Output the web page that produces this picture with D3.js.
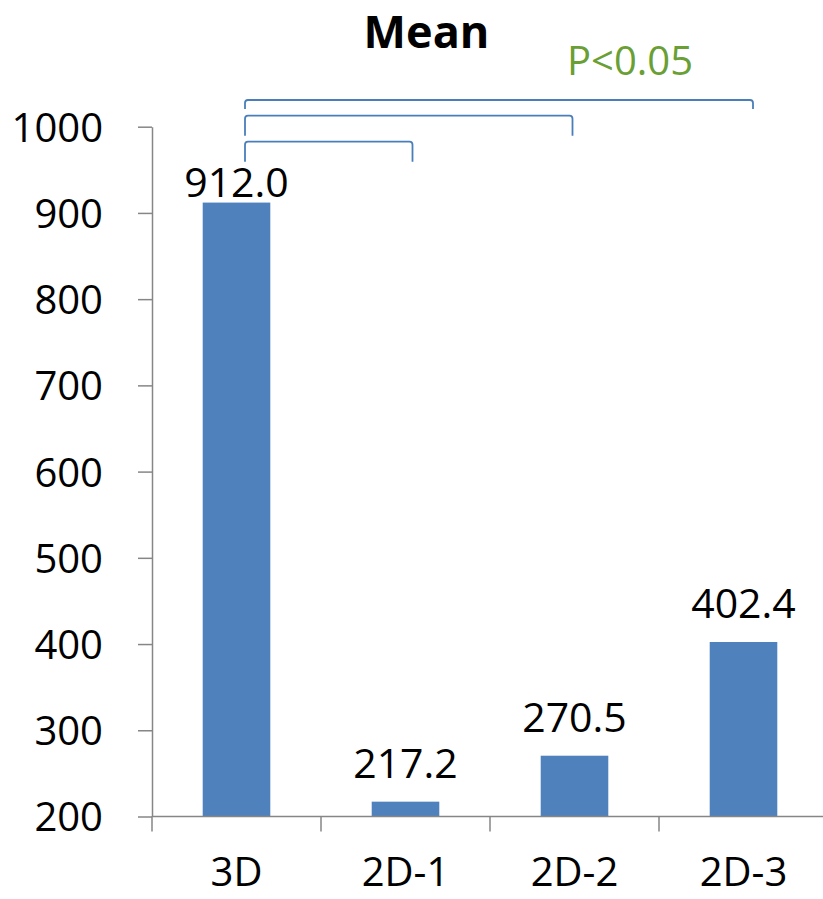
<!DOCTYPE html>
<html>
<head>
<meta charset="utf-8">
<script src="https://cdn.jsdelivr.net/npm/d3@7"></script>
<style>
  html, body { margin: 0; padding: 0; background: #fff; }
  svg { display: block; font-family: "Open Sans", "Noto Sans", sans-serif; }
</style>
</head>
<body>
<svg id="chart" width="823" height="899"></svg>
<script>
// Mean value per condition
const categories = ["3D", "2D-1", "2D-2", "2D-3"];
const means = [912.0, 217.2, 270.5, 402.4];
const yTicks = [200, 300, 400, 500, 600, 700, 800, 900, 1000];
// Pairwise comparisons against 3D, drawn as brackets
const comparisons = [
  { from: "3D", to: "2D-1" },
  { from: "3D", to: "2D-2" },
  { from: "3D", to: "2D-3" }
];
const pLabel = "P<0.05";
const title = "Mean";

const svg = d3.select("#chart");
const axisColor = "#868686";
const barColor = "#4f81bd";
const bracketColor = "#4a7ebb";

const plot = { left: 152, right: 828, top: 126.7, bottom: 816.5 };

const x = d3.scaleBand()
  .domain(categories)
  .range([plot.left, plot.right])
  .paddingInner(0.6)
  .paddingOuter(0.3);

// category boundaries for the tick marks
const xCat = d3.scaleBand().domain(categories).range([plot.left, plot.right]).padding(0);

const y = d3.scaleLinear().domain([200, 1000]).range([plot.bottom, plot.top]);

// Title
svg.append("text")
  .attr("x", 426.5).attr("y", 48)
  .attr("text-anchor", "middle")
  .attr("font-size", 45).attr("font-weight", "bold")
  .attr("fill", "#000")
  .text(title);

// Bars
svg.append("g").selectAll("rect")
  .data(categories.map((c, i) => ({ c, v: means[i] })))
  .join("rect")
  .attr("x", d => x(d.c))
  .attr("width", x.bandwidth())
  .attr("y", d => y(d.v))
  .attr("height", d => y(200) - y(d.v))
  .attr("fill", barColor);

// Value labels (kept inside the plot area)
svg.append("g").selectAll("text")
  .data(categories.map((c, i) => ({ c, v: means[i] })))
  .join("text")
  .attr("x", d => x(d.c) + x.bandwidth() / 2)
  .attr("y", d => Math.max(y(d.v) - 24, plot.top + 70))
  .attr("text-anchor", "middle")
  .attr("font-size", 41)
  .attr("fill", "#000")
  .text(d => d.v.toFixed(1));

// Y axis
const yAxis = svg.append("g")
  .attr("transform", `translate(${plot.left},0)`)
  .call(d3.axisLeft(y).tickValues(yTicks).tickFormat(d3.format("d"))
    .tickSize(14).tickSizeOuter(0).tickPadding(35));
yAxis.select(".domain").attr("stroke", axisColor).attr("stroke-width", 1.5);
yAxis.selectAll(".tick line").attr("stroke", axisColor).attr("stroke-width", 1.5);
yAxis.selectAll(".tick text")
  .attr("font-size", 40).attr("font-family", "Open Sans").attr("fill", "#000")
  .attr("dy", "0.36em");

// X axis: baseline plus boundary tick marks
const xg = svg.append("g");
xg.append("line")
  .attr("x1", plot.left).attr("x2", plot.right)
  .attr("y1", plot.bottom).attr("y2", plot.bottom)
  .attr("stroke", axisColor).attr("stroke-width", 1.5);
xg.selectAll("line.bound")
  .data(categories.map(c => xCat(c)).concat([plot.right]))
  .join("line")
  .attr("class", "bound")
  .attr("x1", d => d).attr("x2", d => d)
  .attr("y1", plot.bottom).attr("y2", plot.bottom + 15)
  .attr("stroke", axisColor).attr("stroke-width", 1.5);
xg.selectAll("text")
  .data(categories)
  .join("text")
  .attr("x", d => x(d) + x.bandwidth() / 2)
  .attr("y", 886)
  .attr("text-anchor", "middle")
  .attr("font-size", 40)
  .attr("fill", "#000")
  .text(d => d);

// Comparison brackets
const bracketLevels = [
  { top: 141.7, drop: 20, dxL: 8.5, dxR: 7 },
  { top: 115.7, drop: 20, dxL: 8.5, dxR: -2 },
  { top: 100, drop: 9, dxL: 8.5, dxR: 9.5 }
];
const cx = c => x(c) + x.bandwidth() / 2;
comparisons.forEach((cmp, i) => {
  const L = bracketLevels[i];
  const x1 = cx(cmp.from) + L.dxL, x2 = cx(cmp.to) + L.dxR;
  const r = 3;
  const path = d3.path();
  path.moveTo(x1, L.top + L.drop);
  path.lineTo(x1, L.top + r);
  path.quadraticCurveTo(x1, L.top, x1 + r, L.top);
  path.lineTo(x2 - r, L.top);
  path.quadraticCurveTo(x2, L.top, x2, L.top + r);
  path.lineTo(x2, L.top + L.drop);
  svg.append("path")
    .attr("d", path.toString())
    .attr("fill", "none")
    .attr("stroke", bracketColor)
    .attr("stroke-width", 1.8);
});

svg.append("text")
  .attr("x", 567).attr("y", 75)
  .attr("font-size", 40)
  .attr("fill", "#6a9f35")
  .text(pLabel);
</script>
</body>
</html>
